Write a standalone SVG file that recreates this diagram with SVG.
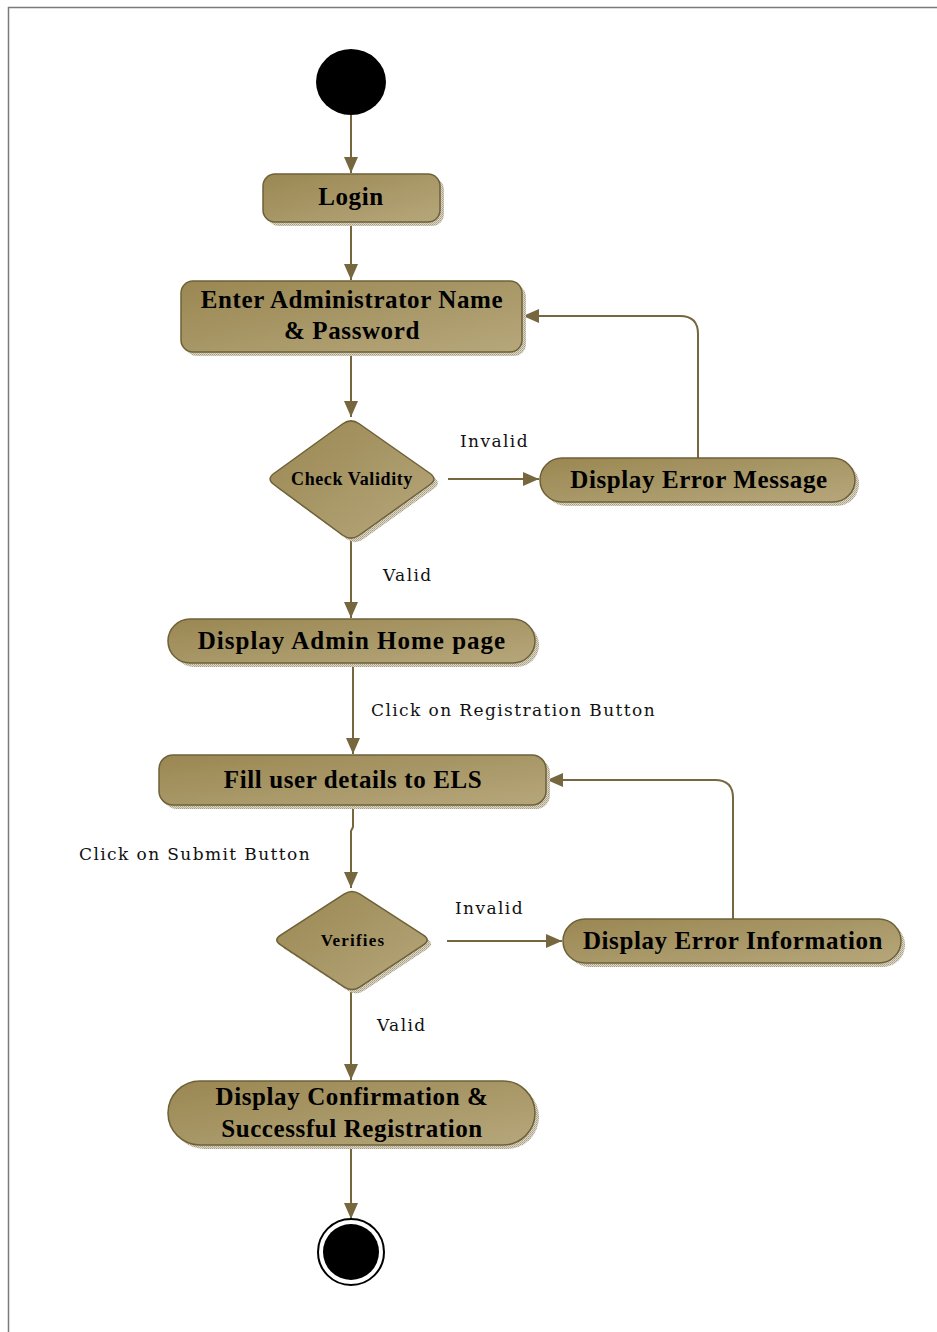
<svg xmlns="http://www.w3.org/2000/svg" width="937" height="1332" viewBox="0 0 937 1332">
  <defs>
    <linearGradient id="fill" x1="0" y1="0" x2="1" y2="1">
      <stop offset="0" stop-color="#9a8752"/>
      <stop offset="1" stop-color="#b6a77b"/>
    </linearGradient>
    <pattern id="stipple" width="2" height="2" patternUnits="userSpaceOnUse">
      <rect width="2" height="2" fill="#ddd7c6"/>
      <rect width="1" height="1" fill="#a59d86"/>
      <rect x="1" y="1" width="1" height="1" fill="#b9b19b"/>
    </pattern>
    <marker id="arrow" viewBox="0 0 16 14" refX="16" refY="7" markerWidth="16" markerHeight="14" markerUnits="userSpaceOnUse" orient="auto">
      <path d="M0,0 L16,7 L0,14 Z" fill="#76673f"/>
    </marker>
  </defs>
  <style>
    .node { fill: url(#fill); stroke: #6e6138; stroke-width: 1.5; }
    .shadow { fill: url(#stipple); }
    .label { font-family: "Liberation Serif", "Times New Roman", serif; font-weight: bold; fill: #000; text-anchor: middle; font-size: 25px; letter-spacing: 0.6px; }
    .edge { fill: none; stroke: #76673f; stroke-width: 2; }
    .guard { font-family: "DejaVu Serif", serif; font-size: 17px; letter-spacing: 1.4px; fill: #111; }
  </style>

  <!-- page frame -->
  <path d="M8.5,1332 V7.5 H937" fill="none" stroke="#7a7a7a" stroke-width="1.5"/>

  <!-- connectors -->
  <g id="connectors">
    <line class="edge" x1="351" y1="115" x2="351" y2="173" marker-end="url(#arrow)"/>
    <line class="edge" x1="351" y1="222" x2="351" y2="280" marker-end="url(#arrow)"/>
    <line class="edge" x1="351" y1="352" x2="351" y2="417" marker-end="url(#arrow)"/>
    <line class="edge" x1="448" y1="479" x2="539" y2="479" marker-end="url(#arrow)"/>
    <path class="edge" d="M698,458 V334 Q698,316 680,316 H523" marker-end="url(#arrow)"/>
    <line class="edge" x1="351" y1="541" x2="351" y2="618" marker-end="url(#arrow)"/>
    <line class="edge" x1="353" y1="663" x2="353" y2="754" marker-end="url(#arrow)"/>
    <path class="edge" d="M353,805 V827 L351,831 V888" marker-end="url(#arrow)"/>
    <line class="edge" x1="447" y1="941" x2="562" y2="941" marker-end="url(#arrow)"/>
    <path class="edge" d="M733,919 V798 Q733,780 715,780 H547" marker-end="url(#arrow)"/>
    <line class="edge" x1="351" y1="992" x2="351" y2="1080" marker-end="url(#arrow)"/>
    <line class="edge" x1="351" y1="1145" x2="351" y2="1219" marker-end="url(#arrow)"/>

    <text class="guard" x="460" y="447">Invalid</text>
    <text class="guard" x="383" y="581">Valid</text>
    <text class="guard" x="371" y="716">Click on Registration Button</text>
    <text class="guard" x="79" y="860">Click on Submit Button</text>
    <text class="guard" x="455" y="914">Invalid</text>
    <text class="guard" x="377" y="1031">Valid</text>
  </g>

  <!-- initial state -->
  <g id="start">
    <ellipse cx="351" cy="82" rx="35" ry="33" fill="#000"/>
  </g>

  <g id="login">
    <rect class="shadow" x="267" y="178" width="177" height="48" rx="12"/>
    <rect class="node" x="263" y="174" width="177" height="48" rx="12"/>
    <text class="label" x="351" y="205">Login</text>
  </g>

  <g id="enter-credentials">
    <rect class="shadow" x="185" y="285" width="341" height="71" rx="12"/>
    <rect class="node" x="181" y="281" width="341" height="71" rx="12"/>
    <text class="label" x="352" y="308">Enter Administrator Name</text>
    <text class="label" x="352" y="339">&amp; Password</text>
  </g>

  <g id="check-validity">
    <path class="shadow" transform="translate(4,4)" d="M342.8,423.75 Q351,418 359.2,423.75 L429.8,473.25 Q438,479 429.8,484.75 L359.2,535.25 Q351,541 342.8,535.25 L274.2,484.75 Q266,479 274.2,473.25 Z"/>
    <path class="node" d="M342.8,423.75 Q351,418 359.2,423.75 L429.8,473.25 Q438,479 429.8,484.75 L359.2,535.25 Q351,541 342.8,535.25 L274.2,484.75 Q266,479 274.2,473.25 Z"/>
    <text class="label" x="352" y="485" style="font-size:18px">Check Validity</text>
  </g>

  <g id="error-message">
    <rect class="shadow" x="544" y="462" width="315" height="44" rx="22"/>
    <rect class="node" x="540" y="458" width="315" height="44" rx="22"/>
    <text class="label" x="699" y="488">Display Error Message</text>
  </g>

  <g id="admin-home">
    <rect class="shadow" x="172" y="623" width="367" height="44" rx="22"/>
    <rect class="node" x="168" y="619" width="367" height="44" rx="22"/>
    <text class="label" x="352" y="649" style="letter-spacing:1px">Display Admin Home page</text>
  </g>

  <g id="fill-details">
    <rect class="shadow" x="163" y="759" width="387" height="50" rx="14"/>
    <rect class="node" x="159" y="755" width="387" height="50" rx="14"/>
    <text class="label" x="353" y="788">Fill user details to ELS</text>
  </g>

  <g id="verifies">
    <path class="shadow" transform="translate(4,4)" d="M344.4,893.9 Q352,889 359.6,893.9 L423.4,935.1 Q431,940 423.4,944.9 L359.6,987.1 Q352,992 344.4,987.1 L280.6,944.9 Q273,940 280.6,935.1 Z"/>
    <path class="node" d="M344.4,893.9 Q352,889 359.6,893.9 L423.4,935.1 Q431,940 423.4,944.9 L359.6,987.1 Q352,992 344.4,987.1 L280.6,944.9 Q273,940 280.6,935.1 Z"/>
    <text class="label" x="353" y="946" style="font-size:17px;letter-spacing:1.2px">Verifies</text>
  </g>

  <g id="error-information">
    <rect class="shadow" x="567" y="923" width="338" height="44" rx="22"/>
    <rect class="node" x="563" y="919" width="338" height="44" rx="22"/>
    <text class="label" x="733" y="949">Display Error Information</text>
  </g>

  <g id="confirmation">
    <rect class="shadow" x="172" y="1085" width="367" height="64" rx="32"/>
    <rect class="node" x="168" y="1081" width="367" height="64" rx="32"/>
    <text class="label" x="352" y="1105">Display Confirmation &amp;</text>
    <text class="label" x="352" y="1137">Successful Registration</text>
  </g>

  <!-- final state -->
  <g id="end">
    <circle cx="351" cy="1252" r="33" fill="#fff" stroke="#000" stroke-width="2"/>
    <circle cx="351" cy="1252" r="28" fill="#000"/>
  </g>
</svg>
